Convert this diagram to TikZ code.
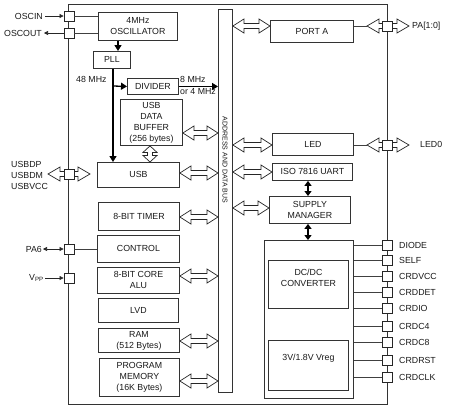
\documentclass[tikz,border=0pt]{standalone}
\usepackage{fontspec}
\setmainfont{Liberation Sans}
\usetikzlibrary{arrows.meta,calc}
\newcommand\mybox[6]{%
  \pgfmathsetmacro\mybw{#4-#2}\pgfmathsetmacro\mybh{#5-#3}%
  \node[box,minimum width=\mybw pt,minimum height=\mybh pt] (#1) at (#2,#3) {#6};}
\newcommand\harr[4][11]{%
  \draw[hol] let \p1=(#2), \p2=(#3), \p3=(0,#4) in
   (\x1,\y3) -- (\x1+#1pt,\y3+7pt) -- (\x1+#1pt,\y3+2.5pt) -- (\x2-#1pt,\y3+2.5pt) -- (\x2-#1pt,\y3+7pt) -- (\x2,\y3) -- (\x2-#1pt,\y3-7pt) -- (\x2-#1pt,\y3-2.5pt) -- (\x1+#1pt,\y3-2.5pt) -- (\x1+#1pt,\y3-7pt) -- cycle;}
\newcommand\varr[4][6.5]{%
  \draw[hol] let \p1=(#2), \p2=(#3), \p3=(#4,0) in
   (\x3,\y1) -- (\x3+7pt,\y1-#1pt) -- (\x3+2.5pt,\y1-#1pt) -- (\x3+2.5pt,\y2+#1pt) -- (\x3+7pt,\y2+#1pt) -- (\x3,\y2) -- (\x3-7pt,\y2+#1pt) -- (\x3-2.5pt,\y2+#1pt) -- (\x3-2.5pt,\y1-#1pt) -- (\x3-7pt,\y1-#1pt) -- cycle;}
\begin{document}
\begin{tikzpicture}[x=1pt,y=-1pt, font=\fontsize{8.8}{11}\selectfont,
 box/.style={draw=black!80,line width=0.9pt,fill=white,inner sep=0pt,align=center,anchor=north west,text=black!90},
 pin/.style={draw=black!85,line width=0.8pt,fill=white,minimum size=10pt,inner sep=0pt},
 lbl/.style={inner sep=0pt,text=black!90},
 hol/.style={draw=black!85,line width=0.7pt,fill=white,line join=miter},
 wire/.style={draw=black!75,line width=0.8pt},
 bigarrow/.style={draw=black,line width=1.3pt,-{Triangle[length=6pt,width=7pt]}},
 bigdbl/.style={draw=black,line width=1.3pt,{Triangle[length=5pt,width=7pt]}-{Triangle[length=5pt,width=7pt]}},
 smallarrow/.style={draw=black!85,line width=0.6pt,-{Triangle[length=4pt,width=4pt]}},
 smalldbl/.style={draw=black!85,line width=0.6pt,{Triangle[length=4pt,width=4pt]}-{Triangle[length=4pt,width=4pt]}},
]
\useasboundingbox (0,0) rectangle (450,410);
% chip outline and bus
\mybox{chip}{68}{4}{387}{404}{}
\mybox{bus}{218}{9}{232}{392}{}
\node[lbl,rotate=-90,font=\fontsize{7}{8}\selectfont] (buslbl) at (225,160) {ADDRESS AND DATA BUS};
% left blocks
\mybox{osc}{98}{12}{177}{40}{4MHz\\OSCILLATOR}
\mybox{pll}{93}{51}{130}{68}{PLL}
\mybox{div}{127}{78}{178}{94}{DIVIDER}
\mybox{buf}{120}{99}{182}{145}{USB\\DATA\\BUFFER\\(256 bytes)}
\mybox{usb}{97}{162}{179}{187}{USB}
\mybox{timer}{98}{202}{179}{230}{8-BIT TIMER}
\mybox{control}{97}{235}{179}{262}{CONTROL}
\mybox{alu}{97}{267}{179}{293}{8-BIT CORE\\ALU}
\mybox{lvd}{98}{298}{178}{322}{LVD}
\mybox{ram}{98}{328}{179}{352}{RAM\\(512 Bytes)}
\mybox{prog}{99}{358}{179}{396}{PROGRAM\\MEMORY\\(16K Bytes)}
% right blocks
\mybox{porta}{270}{20}{353}{42}{PORT A}
\mybox{led}{272}{133}{353}{155}{LED}
\mybox{uart}{272}{163}{352}{180}{ISO 7816 UART}
\mybox{sm}{269}{196}{350}{223}{SUPPLY\\MANAGER}
\mybox{big}{264}{240}{353}{398}{}
\mybox{dcdc}{268}{260}{348}{308}{}
\mybox{vreg}{268}{340}{348}{390}{}
\node[lbl,align=center] (dcdclbl) at ($(dcdc.north)+(0,18)$) {DC/DC\\CONVERTER};
\node[lbl] (vreglbl) at ($(vreg.north)+(0,18)$) {3V/1.8V Vreg};
% bus arrows
\harr{buf.east}{bus.west}{133}
\harr{usb.east}{bus.west}{173}
\harr{timer.east}{bus.west}{217}
\harr{alu.east}{bus.west}{276}
\harr{ram.east}{bus.west}{341}
\harr{prog.east}{bus.west}{381}
\harr{bus.east}{porta.west}{26}
\harr{bus.east}{led.west}{145}
\harr{bus.east}{uart.west}{172}
\harr{bus.east}{sm.west}{208}
\varr{buf.south}{usb.north}{150}
% clock path
\coordinate (xosc) at (118,0);
\coordinate (tap) at (113,86);
\coordinate (xsm) at (308,0);
\draw[bigarrow] (osc.south -| xosc) -- (pll.north -| xosc);
\draw[bigarrow] (pll.south -| tap) -- (usb.north -| tap);
\draw[bigarrow] (tap) -- (div.west);
\draw[bigarrow] (div.east) -- (bus.west |- div.east);
\node[lbl,anchor=west] (f48) at (76,79) {48 MHz};
\node[lbl,anchor=west] (f8) at (180,79) {8 MHz};
\node[lbl,anchor=west] (f4) at (180,92) {or 4 MHz};
\draw[bigdbl] (uart.south -| xsm) -- (sm.north -| xsm);
\draw[bigdbl] (sm.south -| xsm) -- (big.north -| xsm);
% left pins
\node[pin] (oscin) at (69,16) {};
\node[pin] (oscout) at (69,33) {};
\node[pin] (pa6) at (69,249) {};
\node[pin] (vpp) at (69,278) {};
\draw[wire] (oscin.east) -- (osc.west |- oscin);
\draw[wire] (oscout.east) -- (osc.west |- oscout);
\draw[wire] (pa6.east) -- (control.west |- pa6);
\node[lbl,anchor=east] (oscinl) at (43,16) {OSCIN};
\draw[smallarrow,shorten <=2pt] (oscinl.east) -- (oscin.west);
\node[lbl,anchor=east] (oscoutl) at (42,33) {OSCOUT};
\draw[smallarrow,shorten >=2pt] (oscout.west) -- (oscoutl.east);
\node[lbl,anchor=east] (pa6l) at (42,249) {PA6};
\draw[smalldbl,shorten <=1pt] (pa6l.east) -- (pa6.west);
\node[lbl,anchor=east] (vppl) at (44,278) {V\textsubscript{PP}};
\draw[smallarrow,shorten <=1pt] (vppl.east) -- (vpp.west);
% USB pin
\coordinate (usbL) at (48,174);
\coordinate (usbR) at (90,174);
\harr[12]{usbL}{usbR}{174}
\node[pin] (usbp) at (69,174) {};
\node[lbl,align=left,anchor=west] (usbl) at (11,175) {USBDP\\USBDM\\USBVCC};
% PA and LED pins
\coordinate (paL) at (367,26);
\coordinate (paR) at (409,26);
\draw[wire] (porta.east |- paL) -- (paL);
\harr[12]{paL}{paR}{26}
\node[pin] (pa) at (387,26) {};
\node[lbl,anchor=west] (pal) at (412,26) {PA[1:0]};
\coordinate (ledL) at (367,145);
\coordinate (ledR) at (409,145);
\draw[wire] (led.east |- ledL) -- (ledL);
\harr[12]{ledL}{ledR}{145}
\node[pin] (ledp) at (387,145) {};
\node[lbl,anchor=west] (ledl) at (420,144) {LED0};
% card pins
\foreach \n/\y in {DIODE/245, SELF/260, CRDVCC/276, CRDDET/292, CRDIO/308, CRDC4/326, CRDC8/342, CRDRST/360, CRDCLK/377} {
  \node[pin] (p\n) at (387,\y) {};
  \draw[wire] (big.east |- p\n) -- (p\n.west);
  \node[lbl,anchor=west] (l\n) at (399,\y) {\n};
}
\end{tikzpicture}
\end{document}
